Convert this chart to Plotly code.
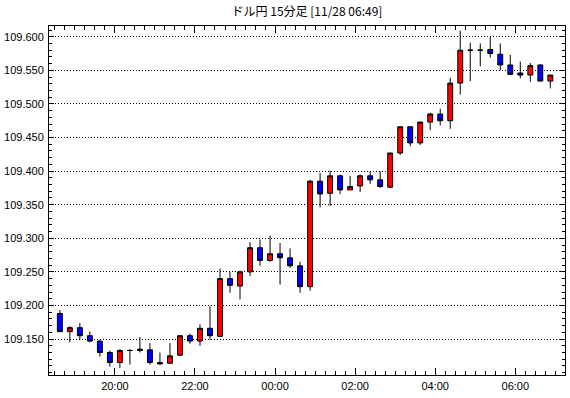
import plotly.graph_objects as go
import pandas as pd

# 15-minute bars, USD/JPY, starting 2019-11-27 18:30
bar_start = "2019-11-27 18:30"
times = pd.date_range(bar_start, periods=50, freq="15min")

opens = [109.188, 109.161, 109.167, 109.155, 109.147, 109.130, 109.115, 109.133, 109.135, 109.134,
         109.115, 109.114, 109.126, 109.155, 109.147, 109.166, 109.154, 109.240, 109.229, 109.250,
         109.286, 109.267, 109.277, 109.271, 109.259, 109.228, 109.385, 109.367, 109.393, 109.372,
         109.378, 109.393, 109.387, 109.376, 109.427, 109.466, 109.442, 109.473, 109.485, 109.475,
         109.531, 109.580, 109.580, 109.581, 109.574, 109.558, 109.546, 109.543, 109.558, 109.534]
highs = [109.193, 109.169, 109.174, 109.161, 109.149, 109.133, 109.135, 109.135, 109.153, 109.144,
         109.130, 109.144, 109.156, 109.158, 109.172, 109.199, 109.255, 109.250, 109.252, 109.294,
         109.298, 109.304, 109.293, 109.285, 109.265, 109.387, 109.397, 109.401, 109.395, 109.393,
         109.395, 109.400, 109.400, 109.427, 109.466, 109.466, 109.474, 109.487, 109.493, 109.539,
         109.609, 109.591, 109.590, 109.600, 109.590, 109.573, 109.563, 109.561, 109.559, 109.543]
lows = [109.161, 109.145, 109.149, 109.145, 109.124, 109.109, 109.107, 109.112, 109.130, 109.112,
        109.112, 109.114, 109.125, 109.143, 109.140, 109.149, 109.154, 109.219, 109.209, 109.244,
        109.259, 109.265, 109.231, 109.256, 109.219, 109.222, 109.346, 109.348, 109.366, 109.372,
        109.369, 109.381, 109.375, 109.375, 109.424, 109.437, 109.439, 109.461, 109.468, 109.463,
        109.514, 109.534, 109.556, 109.569, 109.550, 109.543, 109.538, 109.533, 109.534, 109.523]
closes = [109.161, 109.167, 109.155, 109.147, 109.130, 109.115, 109.133, 109.133, 109.133, 109.115,
          109.113, 109.125, 109.155, 109.147, 109.166, 109.155, 109.240, 109.230, 109.250, 109.286,
          109.267, 109.277, 109.271, 109.259, 109.228, 109.385, 109.366, 109.393, 109.372, 109.377,
          109.393, 109.387, 109.377, 109.427, 109.466, 109.442, 109.473, 109.485, 109.475, 109.531,
          109.580, 109.580, 109.580, 109.575, 109.558, 109.544, 109.543, 109.557, 109.534, 109.543]

y_ticks = [109.150, 109.200, 109.250, 109.300, 109.350, 109.400, 109.450, 109.500, 109.550, 109.600]
y_tick_labels = ["109.150", "109.200", "109.250", "109.300", "109.350",
                 "109.400", "109.450", "109.500", "109.550", "109.600"]

title_text = "ドル円 15分足 [11/28 06:49]"

fig = go.Figure(go.Candlestick(
    x=times, open=opens, high=highs, low=lows, close=closes,
    xperiod=15 * 60 * 1000, xperiodalignment="middle",
    increasing=dict(fillcolor="#ff0000", line=dict(color="#000000", width=1)),
    decreasing=dict(fillcolor="#0000ff", line=dict(color="#000000", width=1)),
    whiskerwidth=0, showlegend=False, hoverinfo="x+y",
))

fig.update_layout(
    width=570, height=398,
    margin=dict(l=49, r=5, t=26, b=23),
    paper_bgcolor="white", plot_bgcolor="white",
    title=dict(text=title_text, x=0.5386, xanchor="center", y=0.982, yanchor="top",
               font=dict(family="Noto Sans CJK JP", size=12, color="#000")),
    boxgap=0.3,
    font=dict(family="Liberation Sans", size=11, color="#000"),
)
fig.update_xaxes(
    type="date", rangeslider_visible=False, automargin=False,
    range=["2019-11-27 18:21:15", "2019-11-28 07:14:30"],
    tick0="2019-11-27 20:00", dtick=2 * 3600 * 1000, tickformat="%H:%M",
    ticks="inside", ticklen=7, tickcolor="#000", tickwidth=1,
    minor=dict(dtick=15 * 60 * 1000, tick0="2019-11-27 20:00", ticks="inside", ticklen=4, tickcolor="#000", showgrid=False),
    showline=True, linecolor="#000", linewidth=1, mirror="allticks",
    showgrid=False, zeroline=False,
    ticklabelstandoff=1,
)
fig.update_yaxes(
    automargin=False,
    range=[109.0965, 109.616],
    tickmode="array", tickvals=y_ticks, ticktext=y_tick_labels,
    ticks="inside", ticklen=5, tickcolor="#000", tickwidth=1,
    minor=dict(dtick=0.01, tick0=109.15, ticks="inside", ticklen=3, tickcolor="#000", showgrid=False),
    showline=True, linecolor="#000", linewidth=1, mirror="allticks",
    showgrid=True, gridcolor="#000", griddash="1px,2px", gridwidth=1,
    zeroline=False, ticklabelstandoff=2,
)

fig.write_html("out.html", config={"displayModeBar": False},
               post_script="document.body.style.margin='0';")
